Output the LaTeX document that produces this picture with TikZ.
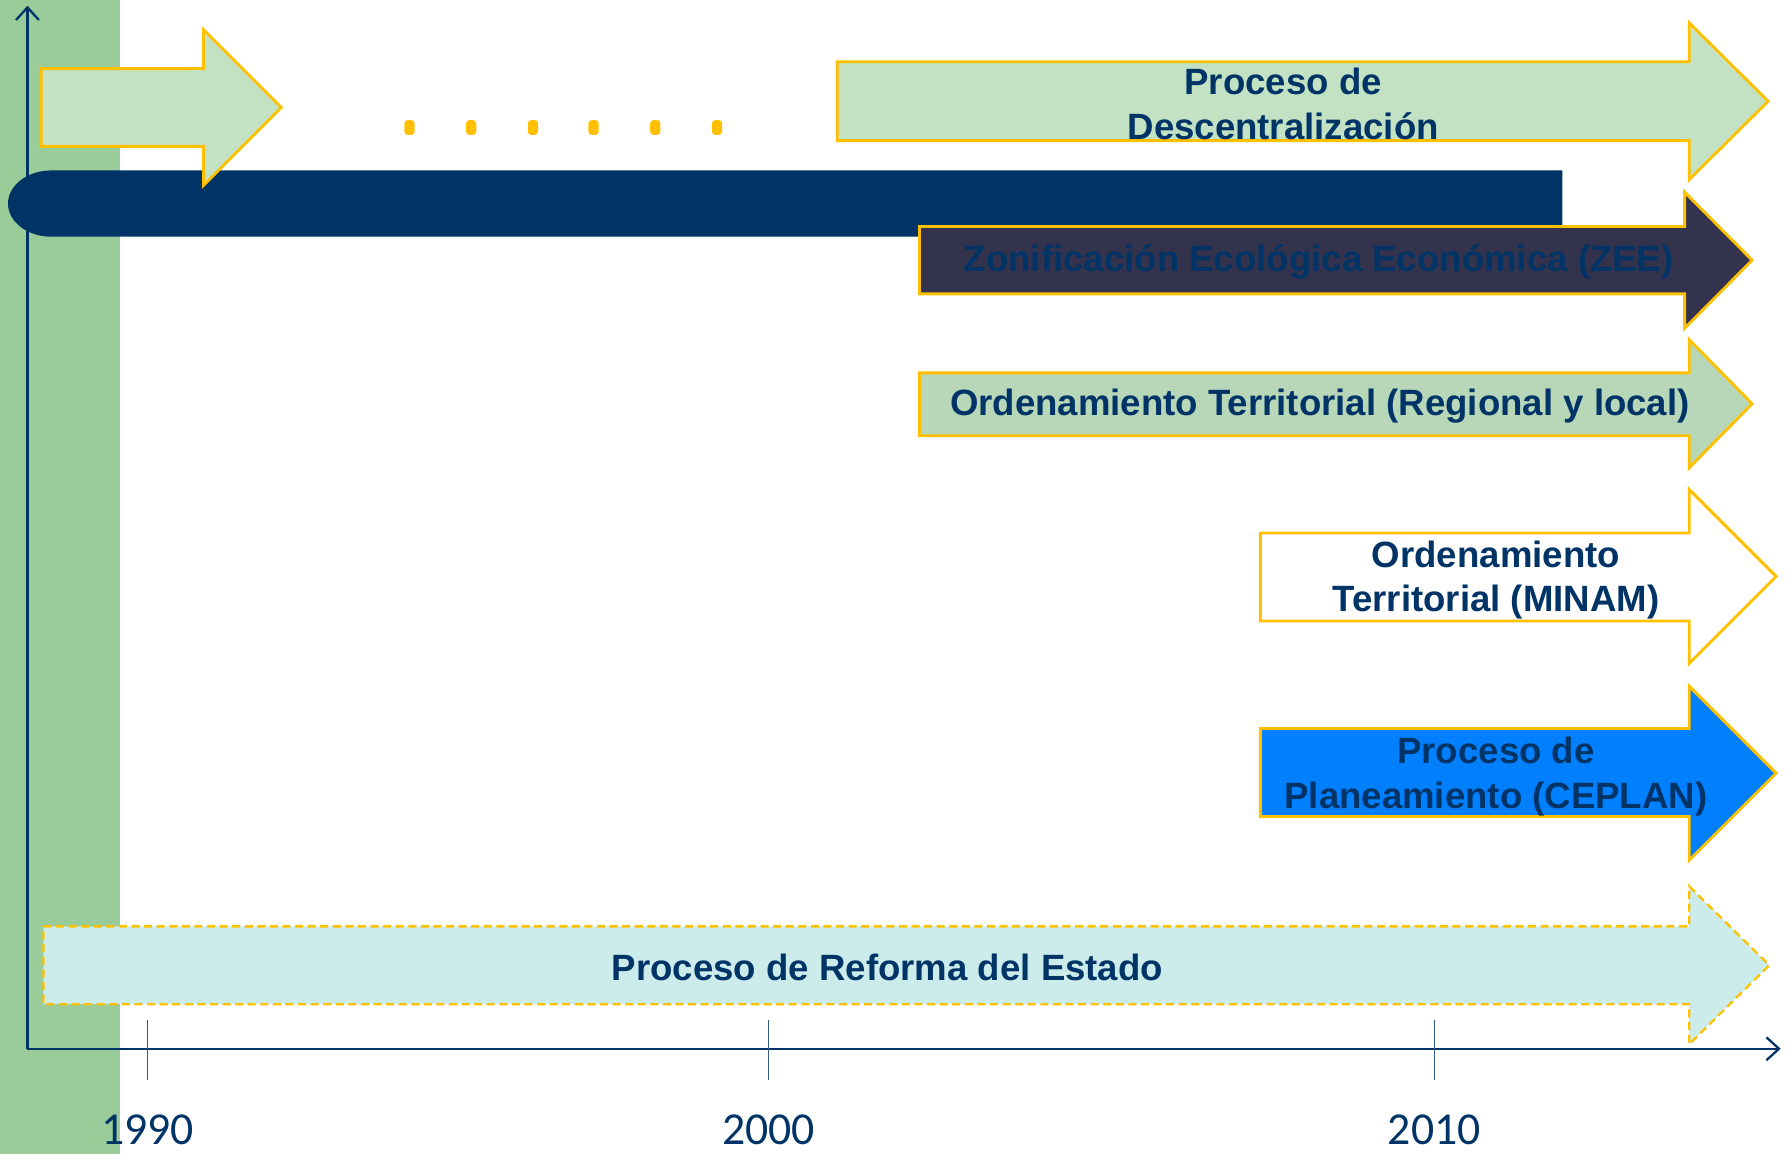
\documentclass[tikz,border=0pt]{standalone}
\usepackage{fontspec}
\setmainfont{Liberation Sans}
\newfontfamily\yearfont{Carlito}
\usetikzlibrary{arrows.meta}
\definecolor{bandgreen}{RGB}{153,204,153}
\definecolor{navy}{RGB}{0,51,102}
\definecolor{gold}{RGB}{255,192,0}
\definecolor{palegreen}{RGB}{195,226,195}
\definecolor{sagegreen}{RGB}{184,214,184}
\definecolor{slate}{RGB}{51,51,77}
\definecolor{skyblue}{RGB}{0,128,255}
\definecolor{palecyan}{RGB}{204,236,236}
% block arrow: (start, neck, tip)(body top, body bottom, head top, head bottom)
\def\procarrow[#1](#2,#3,#4)(#5,#6,#7,#8){\draw[#1] (#2,#5) -- (#3,#5) -- (#3,#7) -- (#4,{(#7+#8)/2}) -- (#3,#8) -- (#3,#6) -- (#2,#6) -- cycle;}

\begin{document}
\begin{tikzpicture}[x=1pt,y=-1pt,
	proc/.style={draw=gold, line width=2.5pt, line join=miter},
	lbl/.style={text=navy, align=center, font=\bfseries\fontsize{32}{39}\selectfont},
	year/.style={text=navy, anchor=base, inner sep=0pt, font=\yearfont\fontsize{40}{40}\selectfont},
	axis/.style={navy, line width=2pt, -{Straight Barb[length=11pt,width=20pt]}}]
		%%%%% START %%%%%
		\useasboundingbox (0,0) rectangle (1566,1009);
		\fill[bandgreen] (0,0) rectangle (105,1009);
		
		% axes and ticks
		\coordinate (origin) at (24,917);
		\coordinate (ytop) at (24,5);
		\coordinate (xend) at (1557,917);
		\draw[axis] (origin) -- (ytop);
		\draw[axis] (origin) -- (xend);
		\foreach \x/\yr in {129/1990, 672/2000, 1254/2010}{
			\draw[navy!80, line width=0.8pt] (\x,892) -- (\x,944);
			\node[year] (y\yr) at (\x,1001) {\yr};
		}
		
		% time bar
		\fill[navy] (1366,149) -- (45,149) arc[start angle=270, end angle=90, x radius=38, y radius=29] -- (1366,207) -- cycle;
		
		% processes
		\procarrow[proc, fill=palegreen](36,178,246)(60,128,26,162);
		\foreach \x in {358,412,466,519,573,627}
			\fill[gold, rounded corners=3pt] (\x-4.5,105) rectangle (\x+4.5,118);
		
		\procarrow[proc, fill=palegreen](732,1477,1546)(54,123,20,157);
		\node[lbl] (descent) at (1122,91) {Proceso de\\Descentralización};
		
		\procarrow[proc, fill=slate](804,1473,1532)(198,257,168,287);
		\node[lbl] (zee) at (1153,229) {Zonificación Ecológica Económica (ZEE)};
		
		\procarrow[proc, fill=sagegreen](804,1477,1532)(326,381,297,409);
		\node[lbl] (otreg) at (1154,355) {Ordenamiento Territorial (Regional y local)};
		
		\procarrow[proc, fill=white](1102,1477,1553)(466,543,428,580);
		\node[lbl] (minam) at (1308,507) {Ordenamiento\\Territorial (MINAM)};
		
		\procarrow[proc, fill=skyblue](1102,1477,1553)(637,714,600,752);
		\node[lbl] (ceplan) at (1308,679) {Proceso de\\Planeamiento (CEPLAN)};
		
		\procarrow[proc, fill=palecyan, line width=2pt, dash pattern=on 7pt off 4pt](38,1477,1547)(810,878,775,913);
		\node[lbl] (reforma) at (776,846) {Proceso de Reforma del Estado};
		%%%%% END %%%%%
\end{tikzpicture}
\end{document}
